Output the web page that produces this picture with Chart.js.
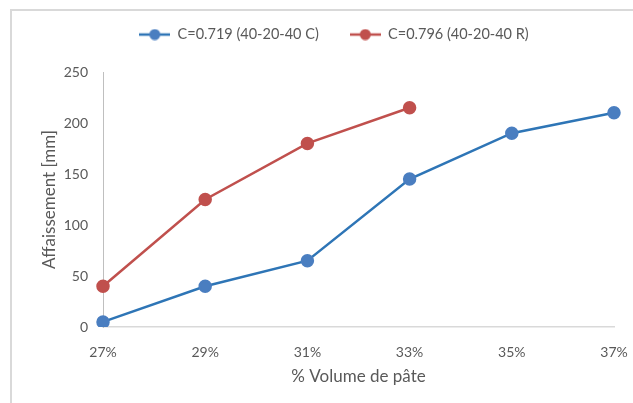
<!DOCTYPE html>
<html>
<head>
<meta charset="utf-8">
<script src="https://cdn.jsdelivr.net/npm/chart.js@4.4.0/dist/chart.umd.min.js"></script>
<style>
  html, body { margin: 0; padding: 0; background: #ffffff; overflow: hidden; }
  #frame { position: absolute; left: 10px; top: 9px; width: 700px; height: 500px;
           border-left: 2px solid #d9d9d9; border-top: 2px solid #d9d9d9; box-sizing: border-box; }
  #c { position: absolute; left: 0; top: 0; }
</style>
</head>
<body>
<div id="frame"></div>
<canvas id="c" width="633" height="403"></canvas>
<script>
const categories = ["27%", "29%", "31%", "33%", "35%", "37%"];
const seriesNames = ["C=0.719 (40-20-40 C)", "C=0.796 (40-20-40 R)"];
const blueValues = [5, 40, 65, 145, 190, 210];
const redValues = [40, 125, 180, 215];
const yTicks = [0, 50, 100, 150, 200, 250];

const FONT = "Lato, 'Open Sans', sans-serif";
const TEXT = "#595959";

function legendIcon(lineColor, dotColor) {
  const cv = document.createElement("canvas");
  cv.width = 31; cv.height = 12;
  const ctx = cv.getContext("2d");
  ctx.strokeStyle = lineColor; ctx.lineWidth = 2.5;
  ctx.beginPath(); ctx.moveTo(0, 6); ctx.lineTo(31, 6); ctx.stroke();
  ctx.fillStyle = dotColor;
  ctx.beginPath(); ctx.arc(15.5, 6, 5.5, 0, Math.PI * 2); ctx.fill();
  return cv;
}
const blueIcon = legendIcon("#2E75B6", "#4A7EC0");
const redIcon = legendIcon("#C0504D", "#C0504D");

const layoutFix = {
  id: "layoutFix",
  afterInit(chart) {
    const lg = chart.legend;
    const orig = lg.fit;
    lg.fit = function () { orig.call(this); this.height = 72; };
  },
  afterLayout(chart) {
    const lg = chart.legend;
    const W = lg.right - lg.left;
    lg.left = 334 - W / 2;
    lg.right = 334 + W / 2;
    lg.top = 36 - 31 - 8.7;
  }
};

new Chart(document.getElementById("c"), {
  type: "line",
  data: {
    labels: categories,
    datasets: [
      { label: seriesNames[0], data: blueValues, borderColor: "#2E75B6", backgroundColor: "#4A7EC0",
        pointBackgroundColor: "#4A7EC0", pointBorderColor: "#4A7EC0", borderWidth: 2.5,
        pointRadius: 5.5, pointHoverRadius: 5.5, tension: 0, pointStyle: "circle", legendIcon: blueIcon },
      { label: seriesNames[1], data: redValues, borderColor: "#C0504D", backgroundColor: "#C0504D",
        pointBackgroundColor: "#C0504D", pointBorderColor: "#C0504D", borderWidth: 2.5,
        pointRadius: 5.5, pointHoverRadius: 5.5, tension: 0, pointStyle: "circle", legendIcon: redIcon }
    ]
  },
  plugins: [layoutFix],
  options: {
    responsive: false,
    animation: false,
    layout: { padding: { left: 39, right: 19, top: 0, bottom: 16 } },
    plugins: {
      tooltip: { enabled: false },
      legend: {
        position: "top",
        labels: {
          usePointStyle: true,
          pointStyleWidth: 31,
          boxHeight: 12,
          padding: 31,
          color: TEXT,
          font: { family: FONT, size: 14.5 },
          generateLabels(chart) {
            return chart.data.datasets.map((ds, i) => ({
              text: ds.label, fillStyle: ds.backgroundColor, strokeStyle: ds.borderColor,
              lineWidth: 0, pointStyle: ds.legendIcon, datasetIndex: i, hidden: false, fontColor: TEXT
            }));
          }
        }
      }
    },
    scales: {
      x: {
        type: "category",
        offset: false,
        afterFit(scale) { scale.height = 60; scale.paddingLeft = 0; scale.paddingRight = 0; },
        grid: { display: false, drawTicks: false },
        border: { display: true, color: "#d9d9d9", width: 1.5 },
        ticks: { color: TEXT, font: { family: FONT, size: 14 }, padding: 17, maxRotation: 0 },
        title: { display: true, text: "% Volume de pâte", color: TEXT, font: { family: FONT, size: 17 }, padding: { top: 0, bottom: 0 } }
      },
      y: {
        min: 0, max: 250,
        afterFit(scale) { scale.width = 64; },
        afterBuildTicks(scale) { scale.ticks = yTicks.map(v => ({ value: v })); },
        grid: { display: false, drawTicks: false },
        border: { display: true, color: "#bfbfbf", width: 1 },
        ticks: { color: TEXT, font: { family: FONT, size: 14 }, padding: 15 },
        title: { display: true, text: "Affaissement [mm]", color: TEXT, font: { family: FONT, size: 17 }, padding: { top: 0, bottom: 0 } }
      }
    }
  }
});
</script>
</body>
</html>
